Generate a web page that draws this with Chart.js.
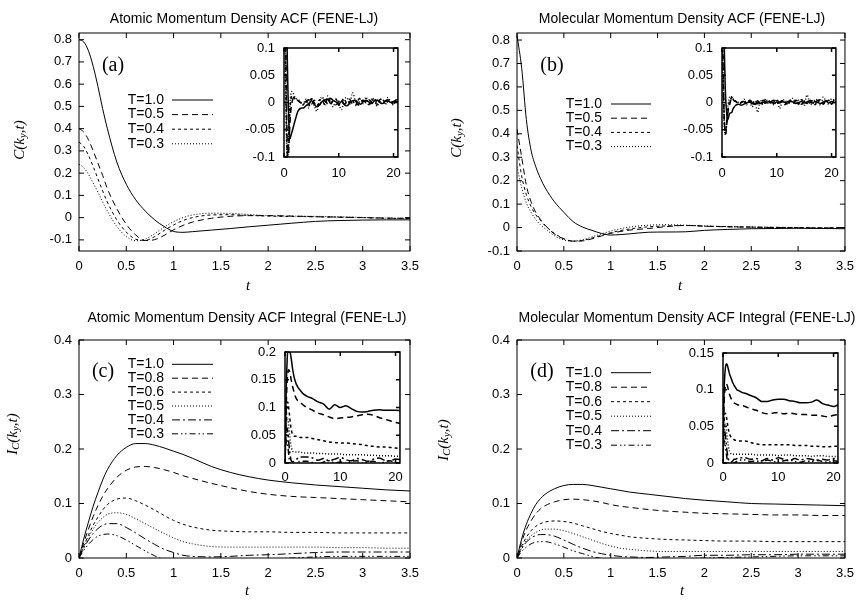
<!DOCTYPE html>
<html>
<head>
<meta charset="utf-8">
<title>Momentum Density ACF (FENE-LJ)</title>
<script src="https://cdn.jsdelivr.net/npm/chart.js@4.4.1/dist/chart.umd.min.js"></script>
<style>
  body { margin: 0; background: #fff; }
  #fig { position: relative; width: 862px; height: 605px; overflow: hidden; font-family: "Liberation Sans", Arial, sans-serif; }
  #fig canvas { position: absolute; }
  .lbl { position: absolute; transform: translate(-50%, -50%); white-space: nowrap; line-height: 1; color: #000; }
  .title { font-size: 14px; }
  .serif { font-family: "Liberation Serif", "Times New Roman", serif; }
  .axis { font-size: 15px; font-style: italic; }
  .rot { transform: translate(-50%, -50%) rotate(-90deg); }
  .tag { font-size: 20px; }
  sub { font-size: 70%; vertical-align: -0.25em; line-height: 0; }
</style>
</head>
<body>
<div id="fig">
  <canvas id="cA" width="431" height="302" style="left:0;top:0"></canvas>
  <canvas id="cB" width="431" height="302" style="left:431px;top:0"></canvas>
  <canvas id="cC" width="431" height="302" style="left:0;top:302px"></canvas>
  <canvas id="cD" width="431" height="302" style="left:431px;top:302px"></canvas>
  <canvas id="iA" width="180" height="165" style="left:230px;top:28px"></canvas>
  <canvas id="iB" width="180" height="165" style="left:668px;top:28px"></canvas>
  <canvas id="iC" width="180" height="165" style="left:230px;top:332px"></canvas>
  <canvas id="iD" width="180" height="165" style="left:668px;top:333px"></canvas>

  <div class="lbl title" style="left:244px;top:18px">Atomic Momentum Density ACF (FENE-LJ)</div>
  <div class="lbl title" style="left:682px;top:18px">Molecular Momentum Density ACF (FENE-LJ)</div>
  <div class="lbl title" style="left:247px;top:317px">Atomic Momentum Density ACF Integral (FENE-LJ)</div>
  <div class="lbl title" style="left:687px;top:317px">Molecular Momentum Density ACF Integral (FENE-LJ)</div>

  <div class="lbl serif axis rot" style="left:19px;top:140px"><i>C</i>(<i>k<sub>y</sub></i>,<i>t</i>)</div>
  <div class="lbl serif axis rot" style="left:456px;top:138px"><i>C</i>(<i>k<sub>y</sub></i>,<i>t</i>)</div>
  <div class="lbl serif axis rot" style="left:12px;top:434px"><i>I<sub>C</sub></i>(<i>k<sub>y</sub></i>,<i>t</i>)</div>
  <div class="lbl serif axis rot" style="left:443px;top:440px"><i>I<sub>C</sub></i>(<i>k<sub>y</sub></i>,<i>t</i>)</div>

  <div class="lbl serif axis" style="left:248px;top:285px">t</div>
  <div class="lbl serif axis" style="left:680px;top:285px">t</div>
  <div class="lbl serif axis" style="left:247px;top:590px">t</div>
  <div class="lbl serif axis" style="left:682px;top:590px">t</div>

  <div class="lbl serif tag" style="left:113px;top:64px">(a)</div>
  <div class="lbl serif tag" style="left:552px;top:64px">(b)</div>
  <div class="lbl serif tag" style="left:103px;top:370px">(c)</div>
  <div class="lbl serif tag" style="left:542px;top:370px">(d)</div>
</div>

<script>
// ---- time grids ----
const tMain = [0, 0.05, 0.1, 0.15, 0.2, 0.25, 0.3, 0.4, 0.5, 0.6, 0.7, 0.8, 0.9, 1.0, 1.1, 1.2, 1.4, 1.6, 1.8, 2.0, 2.25, 2.5, 2.75, 3.0, 3.25, 3.5];
const tTailFine = [4, 4.5, 5, 5.5, 6, 6.5, 7, 7.5, 8, 8.5, 9, 9.5, 10, 10.5, 11, 11.5, 12, 12.5, 13, 13.5, 14, 14.5, 15, 15.5, 16, 16.5, 17, 17.5, 18, 18.5, 19, 19.5, 20, 20.5, 21];
const tTailCoarse = [4, 5, 6, 7, 8, 9, 10, 11, 12, 13, 14, 15, 16, 17, 18, 19, 20, 21];

// ---- tick values ----
const xTicksMain = [0, 0.5, 1, 1.5, 2, 2.5, 3, 3.5];
const yTicksAcf = [-0.1, 0, 0.1, 0.2, 0.3, 0.4, 0.5, 0.6, 0.7, 0.8];
const yTicksInt = [0, 0.1, 0.2, 0.3, 0.4];
const xTicksInset = [0, 10, 20];
const yTicksInsetAcf = [-0.1, -0.05, 0, 0.05, 0.1];
const yTicksInsetAtomInt = [0, 0.05, 0.1, 0.15, 0.2];
const yTicksInsetMolInt = [0, 0.05, 0.1, 0.15];

const labelsAcf = ['T=1.0', 'T=0.5', 'T=0.4', 'T=0.3'];
const labelsInt = ['T=1.0', 'T=0.8', 'T=0.6', 'T=0.5', 'T=0.4', 'T=0.3'];

// ---- (a) atomic ACF ----
const atomAcf10 = [0.80, 0.79, 0.75, 0.68, 0.59, 0.49, 0.40, 0.25, 0.15, 0.08, 0.03, -0.01, -0.04, -0.062, -0.066, -0.063, -0.056, -0.049, -0.041, -0.034, -0.025, -0.017, -0.013, -0.011, -0.01, -0.01];
const atomAcf05 = [0.40, 0.385, 0.35, 0.30, 0.245, 0.19, 0.13, 0.04, -0.03, -0.078, -0.103, -0.099, -0.08, -0.055, -0.035, -0.02, -0.003, 0.006, 0.009, 0.009, 0.007, 0.004, 0.002, 0.0, -0.002, -0.003];
const atomAcf04 = [0.34, 0.32, 0.28, 0.23, 0.175, 0.12, 0.07, -0.01, -0.065, -0.097, -0.102, -0.085, -0.058, -0.033, -0.013, 0.0, 0.012, 0.013, 0.01, 0.007, 0.005, 0.004, 0.002, 0.0, -0.003, -0.004];
const atomAcf03 = [0.24, 0.225, 0.195, 0.155, 0.115, 0.07, 0.03, -0.04, -0.085, -0.104, -0.097, -0.072, -0.043, -0.018, 0.0, 0.012, 0.02, 0.019, 0.014, 0.009, 0.007, 0.006, 0.004, 0.001, -0.002, -0.004];
// long-time tails (inset a)
const atomAcf10Tail = [-0.006, -0.002, 0.003, -0.003, -0.008, -0.004, 0.002, 0.005, 0.006, -0.002, 0.003, 0.001, -0.003, 0.002, -0.004, -0.006, -0.001, 0.003, 0.004, 0.0, -0.003, 0.002, 0.004, 0.001, -0.002, 0.003, 0.004, 0.0, -0.002, 0.002, 0.003, 0.0, 0.001, 0.002, 0.001];
const atomAcf05Tail = [0.002, 0.005, -0.003, 0.004, 0.001, -0.005, 0.006, 0.002, -0.002, 0.008, 0.003, -0.004, 0.002, 0.005, -0.003, 0.001, 0.006, -0.002, 0.003, -0.004, 0.002, 0.004, -0.001, 0.005, 0.0, -0.003, 0.004, 0.002, -0.002, 0.003, 0.005, -0.001, 0.002, 0.004, 0.0];
const atomAcf04Tail = [0.004, -0.006, 0.007, 0.0, -0.008, 0.005, 0.003, -0.004, 0.009, -0.002, 0.004, 0.006, -0.005, 0.002, 0.007, -0.003, 0.001, 0.005, -0.006, 0.004, 0.008, -0.002, 0.003, -0.004, 0.006, 0.001, -0.003, 0.005, 0.007, -0.002, 0.002, 0.004, -0.003, 0.005, 0.002];
const atomAcf03Tail = [0.006, -0.01, 0.008, -0.005, -0.016, 0.004, 0.01, -0.006, 0.012, 0.002, -0.008, 0.006, -0.004, -0.013, 0.005, 0.009, -0.003, 0.018, 0.004, -0.006, 0.007, -0.002, 0.01, -0.005, 0.003, 0.008, -0.007, 0.004, 0.006, -0.004, 0.009, 0.001, -0.005, 0.006, 0.003];

// ---- (b) molecular ACF ----
const molAcf10 = [0.82, 0.68, 0.46, 0.33, 0.26, 0.21, 0.17, 0.11, 0.065, 0.025, 0.002, -0.012, -0.025, -0.032, -0.03, -0.027, -0.02, -0.019, -0.018, -0.012, -0.008, -0.005, -0.004, -0.003, -0.004, -0.005];
const molAcf05 = [0.42, 0.30, 0.18, 0.11, 0.065, 0.035, 0.01, -0.028, -0.048, -0.058, -0.057, -0.048, -0.036, -0.025, -0.017, -0.011, -0.004, 0.004, 0.009, 0.006, 0.003, 0.002, 0.0, -0.001, -0.002, 0.0];
const molAcf04 = [0.35, 0.22, 0.14, 0.09, 0.055, 0.03, 0.008, -0.025, -0.048, -0.058, -0.055, -0.045, -0.033, -0.022, -0.013, -0.006, 0.003, 0.007, 0.009, 0.006, 0.004, 0.002, 0.001, 0.0, -0.001, 0.0];
const molAcf03 = [0.26, 0.17, 0.105, 0.065, 0.035, 0.012, -0.005, -0.035, -0.053, -0.058, -0.052, -0.04, -0.027, -0.015, -0.005, 0.002, 0.01, 0.012, 0.01, 0.007, 0.004, 0.002, 0.001, 0.0, -0.002, -0.002];
const molAcf10Tail = [-0.003, -0.001, 0.001, -0.002, -0.003, 0.0, -0.002, 0.001, -0.001, 0.002, 0.0, -0.002, 0.001, -0.001, 0.002, 0.0, -0.001, 0.002, 0.001, -0.002, 0.0, 0.002, -0.001, 0.001, 0.003, -0.001, 0.002, 0.0, -0.002, 0.001, 0.003, -0.001, 0.002, 0.0, 0.001];
const molAcf05Tail = [0.002, -0.003, 0.004, 0.0, -0.004, 0.003, -0.002, 0.004, 0.001, -0.003, 0.002, 0.004, -0.002, 0.001, 0.003, -0.003, 0.002, 0.0, -0.002, 0.004, 0.001, -0.003, 0.002, 0.005, -0.001, 0.003, -0.002, 0.004, 0.0, -0.003, 0.003, 0.001, -0.002, 0.004, 0.001];
const molAcf04Tail = [0.004, -0.002, 0.001, 0.005, -0.004, -0.002, 0.003, -0.005, 0.002, 0.004, -0.003, 0.001, 0.005, -0.002, 0.003, -0.004, 0.002, 0.004, -0.001, 0.003, -0.003, 0.005, 0.001, -0.002, 0.004, 0.002, -0.004, 0.003, 0.005, -0.002, 0.001, 0.004, -0.003, 0.002, 0.0];
const molAcf03Tail = [0.006, -0.004, 0.003, -0.008, 0.002, -0.018, 0.004, -0.003, 0.007, -0.002, 0.003, -0.005, 0.006, -0.011, 0.002, 0.005, -0.004, 0.003, 0.008, -0.003, 0.004, 0.002, -0.006, 0.014, 0.001, -0.004, 0.006, 0.003, -0.005, 0.01, 0.002, -0.003, 0.007, 0.004, 0.002];

// ---- (c) atomic ACF integral ----
const atomInt10 = [0, 0.035, 0.066, 0.095, 0.12, 0.143, 0.162, 0.188, 0.203, 0.21, 0.21, 0.207, 0.202, 0.196, 0.19, 0.183, 0.168, 0.157, 0.149, 0.143, 0.138, 0.134, 0.131, 0.128, 0.125, 0.123];
const atomInt08 = [0, 0.028, 0.053, 0.076, 0.096, 0.113, 0.127, 0.148, 0.161, 0.167, 0.168, 0.166, 0.162, 0.157, 0.151, 0.146, 0.137, 0.129, 0.122, 0.117, 0.113, 0.111, 0.109, 0.107, 0.105, 0.103];
const atomInt06 = [0, 0.022, 0.042, 0.06, 0.075, 0.088, 0.098, 0.108, 0.11, 0.105, 0.097, 0.088, 0.078, 0.069, 0.062, 0.057, 0.051, 0.049, 0.048, 0.048, 0.047, 0.047, 0.046, 0.046, 0.046, 0.046];
const atomInt05 = [0, 0.02, 0.038, 0.053, 0.065, 0.074, 0.08, 0.083, 0.08, 0.072, 0.063, 0.054, 0.045, 0.037, 0.03, 0.026, 0.021, 0.02, 0.02, 0.02, 0.02, 0.02, 0.019, 0.019, 0.018, 0.018];
const atomInt04 = [0, 0.018, 0.033, 0.045, 0.054, 0.06, 0.063, 0.063, 0.056, 0.046, 0.035, 0.025, 0.016, 0.01, 0.005, 0.003, 0.002, 0.003, 0.005, 0.006, 0.008, 0.01, 0.011, 0.011, 0.011, 0.011];
const atomInt03 = [0, 0.014, 0.025, 0.034, 0.04, 0.043, 0.044, 0.041, 0.033, 0.023, 0.013, 0.004, -0.003, -0.008, -0.01, -0.011, -0.01, -0.007, -0.004, -0.002, 0.0, 0.002, 0.003, 0.003, 0.003, 0.003];
const atomInt10Tail = [0.12, 0.116, 0.11, 0.106, 0.097, 0.105, 0.1, 0.103, 0.098, 0.093, 0.092, 0.093, 0.095, 0.096, 0.095, 0.095, 0.095, 0.094];
const atomInt08Tail = [0.1, 0.095, 0.09, 0.087, 0.083, 0.08, 0.081, 0.082, 0.083, 0.085, 0.087, 0.088, 0.086, 0.082, 0.079, 0.076, 0.073, 0.071];
const atomInt06Tail = [0.046, 0.044, 0.042, 0.04, 0.038, 0.037, 0.036, 0.036, 0.035, 0.034, 0.033, 0.031, 0.03, 0.029, 0.029, 0.028, 0.027, 0.026];
const atomInt05Tail = [0.018, 0.018, 0.017, 0.017, 0.016, 0.016, 0.016, 0.015, 0.015, 0.015, 0.015, 0.014, 0.014, 0.013, 0.013, 0.013, 0.012, 0.012];
const atomInt04Tail = [0.011, 0.009, 0.005, 0.008, 0.004, 0.007, 0.01, 0.006, 0.004, 0.008, 0.006, 0.003, 0.007, 0.009, 0.005, 0.004, 0.007, 0.006];
const atomInt03Tail = [0.003, 0.001, -0.002, 0.002, 0.004, 0.0, 0.002, -0.001, 0.003, 0.004, 0.0, 0.002, 0.003, -0.001, 0.002, 0.004, 0.001, 0.002];

// ---- (d) molecular ACF integral ----
const molInt10 = [0, 0.035, 0.062, 0.082, 0.098, 0.109, 0.117, 0.127, 0.133, 0.135, 0.135, 0.133, 0.13, 0.127, 0.124, 0.121, 0.117, 0.113, 0.109, 0.106, 0.103, 0.1, 0.099, 0.098, 0.097, 0.096];
const molInt08 = [0, 0.03, 0.052, 0.068, 0.081, 0.09, 0.096, 0.103, 0.107, 0.108, 0.107, 0.105, 0.102, 0.098, 0.095, 0.093, 0.089, 0.086, 0.084, 0.082, 0.081, 0.08, 0.079, 0.079, 0.078, 0.078];
const molInt06 = [0, 0.022, 0.038, 0.05, 0.058, 0.063, 0.066, 0.068, 0.067, 0.064, 0.059, 0.054, 0.049, 0.045, 0.042, 0.039, 0.036, 0.034, 0.033, 0.032, 0.031, 0.031, 0.03, 0.03, 0.03, 0.03];
const molInt05 = [0, 0.019, 0.032, 0.041, 0.047, 0.051, 0.053, 0.053, 0.05, 0.045, 0.039, 0.033, 0.027, 0.022, 0.018, 0.016, 0.013, 0.012, 0.012, 0.012, 0.012, 0.012, 0.012, 0.012, 0.012, 0.012];
const molInt04 = [0, 0.017, 0.029, 0.037, 0.041, 0.043, 0.043, 0.04, 0.033, 0.025, 0.018, 0.012, 0.008, 0.005, 0.003, 0.002, 0.001, 0.002, 0.003, 0.005, 0.005, 0.006, 0.006, 0.007, 0.007, 0.007];
const molInt03 = [0, 0.012, 0.02, 0.026, 0.029, 0.03, 0.03, 0.026, 0.02, 0.013, 0.008, 0.003, -0.001, -0.004, -0.005, -0.005, -0.004, -0.003, -0.001, 0.0, 0.001, 0.002, 0.003, 0.004, 0.004, 0.004];
const molInt10Tail = [0.095, 0.092, 0.089, 0.084, 0.084, 0.086, 0.087, 0.087, 0.085, 0.084, 0.082, 0.082, 0.083, 0.086, 0.081, 0.079, 0.077, 0.08];
const molInt08Tail = [0.077, 0.074, 0.072, 0.069, 0.067, 0.068, 0.069, 0.067, 0.068, 0.067, 0.066, 0.066, 0.065, 0.065, 0.064, 0.063, 0.065, 0.066];
const molInt06Tail = [0.03, 0.028, 0.026, 0.025, 0.025, 0.025, 0.025, 0.025, 0.025, 0.024, 0.024, 0.024, 0.023, 0.023, 0.022, 0.022, 0.023, 0.023];
const molInt05Tail = [0.012, 0.012, 0.011, 0.011, 0.011, 0.011, 0.01, 0.011, 0.011, 0.01, 0.01, 0.01, 0.009, 0.01, 0.01, 0.009, 0.009, 0.009];
const molInt04Tail = [0.007, 0.005, 0.006, 0.003, 0.006, 0.004, 0.007, 0.005, 0.003, 0.006, 0.004, 0.006, 0.005, 0.003, 0.005, 0.004, 0.006, 0.005];
const molInt03Tail = [0.004, 0.002, 0.003, 0.001, 0.004, 0.002, 0.001, 0.003, 0.004, 0.002, 0.001, 0.003, 0.002, 0.004, 0.002, 0.001, 0.003, 0.002];

// gnuplot-like line types
const dashAcf = [[], [6, 4], [3, 3], [1, 2]];
const dashInt = [[], [6, 4], [3, 3], [1, 2], [8, 3, 2, 3], [6, 3, 1.5, 2.5, 1.5, 3]];
const FONT = '"Liberation Sans", Arial, sans-serif';

function pts(ts, vs) {
    return vs.map((v, i) => ({ x: ts[i], y: v }));
}

// main curve followed by its long-time tail (insets)
function joined(head, tailT, tail) {
    return pts(tMain.concat(tailT), head.concat(tail));
}

// border box with inward ticks on all four sides
const frameTicks = {
    id: 'frameTicks',
    afterDatasetsDraw(chart, args, opts) {
        const { ctx, chartArea: a, scales } = chart;
        const len = opts.len || 5;
        ctx.save();
        ctx.strokeStyle = '#000';
        ctx.lineWidth = opts.width || 1;
        ctx.setLineDash([]);
        ctx.beginPath();
        scales.x.ticks.forEach(t => {
            const px = scales.x.getPixelForValue(t.value);
            ctx.moveTo(px, a.bottom); ctx.lineTo(px, a.bottom - len);
            ctx.moveTo(px, a.top); ctx.lineTo(px, a.top + len);
        });
        scales.y.ticks.forEach(t => {
            const py = scales.y.getPixelForValue(t.value);
            ctx.moveTo(a.left, py); ctx.lineTo(a.left + len, py);
            ctx.moveTo(a.right, py); ctx.lineTo(a.right - len, py);
        });
        ctx.stroke();
        ctx.strokeRect(a.left, a.top, a.right - a.left, a.bottom - a.top);
        ctx.restore();
    }
};

// key inside the plot: label right-aligned, sample line to its right
const keyBox = {
    id: 'keyBox',
    afterDatasetsDraw(chart, args, opts) {
        if (!opts || opts.textRight === undefined) return;
        const ctx = chart.ctx;
        ctx.save();
        ctx.font = '14px ' + FONT;
        ctx.textAlign = 'right';
        ctx.textBaseline = 'middle';
        ctx.fillStyle = '#000';
        chart.data.datasets.forEach((ds, i) => {
            const y = opts.top + i * opts.step;
            ctx.fillText(ds.label, opts.textRight, y);
            ctx.setLineDash(ds.borderDash || []);
            ctx.lineWidth = ds.borderWidth;
            ctx.strokeStyle = ds.borderColor;
            ctx.beginPath();
            ctx.moveTo(opts.x1, y);
            ctx.lineTo(opts.x2, y);
            ctx.stroke();
        });
        ctx.restore();
    }
};

function makeChart(id, c) {
    const fmt = v => String(Math.round(v * 1000) / 1000);
    const tickFont = { family: FONT, size: 13 };
    return new Chart(document.getElementById(id), {
        type: 'line',
        data: {
            datasets: c.series.map((s, i) => ({
                label: c.labels[i],
                data: s,
                borderColor: '#000',
                borderWidth: c.lineWidth,
                borderDash: c.dashes[i],
                pointRadius: 0,
                fill: false,
                cubicInterpolationMode: 'monotone'
            }))
        },
        options: {
            responsive: false,
            animation: false,
            events: [],
            layout: { padding: c.pad },
            plugins: {
                legend: { display: false },
                tooltip: { enabled: false },
                frameTicks: { len: c.tickLen, width: c.frameWidth },
                keyBox: c.key || {}
            },
            scales: {
                x: {
                    type: 'linear',
                    min: c.xRange[0],
                    max: c.xRange[1],
                    grid: { display: false, drawTicks: false },
                    border: { display: false },
                    ticks: { padding: c.xPad, font: tickFont, color: '#000', maxRotation: 0, autoSkip: false, callback: fmt },
                    afterBuildTicks: s => { s.ticks = c.xTicks.map(v => ({ value: v })); },
                    afterFit: s => { s.height = c.xHeight; }
                },
                y: {
                    type: 'linear',
                    min: c.yRange[0],
                    max: c.yRange[1],
                    grid: { display: false, drawTicks: false },
                    border: { display: false },
                    ticks: { padding: c.yPad, font: tickFont, color: '#000', autoSkip: false, callback: fmt },
                    afterBuildTicks: s => { s.ticks = c.yTicks.map(v => ({ value: v })); },
                    afterFit: s => { s.width = c.yWidth; }
                }
            }
        },
        plugins: [frameTicks, keyBox]
    });
}

const mainBase = { xRange: [0, 3.5], xTicks: xTicksMain, lineWidth: 1, tickLen: 5, frameWidth: 1, xPad: 8, yPad: 7 };
const insetBase = { xRange: [0, 20.8], xTicks: xTicksInset, lineWidth: 1.5, tickLen: 4, frameWidth: 1.5, yPad: 9 };

// (a)
makeChart('cA', Object.assign({}, mainBase, {
    series: [atomAcf10, atomAcf05, atomAcf04, atomAcf03].map(v => pts(tMain, v)),
    labels: labelsAcf, dashes: dashAcf,
    yRange: [-0.15, 0.83], yTicks: yTicksAcf,
    pad: { top: 33, right: 21, bottom: 0, left: 0 }, yWidth: 79, xHeight: 51,
    key: { textRight: 164, x1: 172, x2: 213, top: 100, step: 14.6 }
}));
// (b)
makeChart('cB', Object.assign({}, mainBase, {
    series: [molAcf10, molAcf05, molAcf04, molAcf03].map(v => pts(tMain, v)),
    labels: labelsAcf, dashes: dashAcf,
    yRange: [-0.1, 0.83], yTicks: yTicksAcf,
    pad: { top: 33, right: 13, bottom: 0, left: 0 }, yWidth: 86, xHeight: 51,
    key: { textRight: 171, x1: 180, x2: 220, top: 104, step: 14.2 }
}));
// (c)
makeChart('cC', Object.assign({}, mainBase, {
    series: [atomInt10, atomInt08, atomInt06, atomInt05, atomInt04, atomInt03].map(v => pts(tMain, v)),
    labels: labelsInt, dashes: dashInt,
    yRange: [0, 0.4], yTicks: yTicksInt,
    pad: { top: 38, right: 21, bottom: 0, left: 0 }, yWidth: 79, xHeight: 46,
    key: { textRight: 164, x1: 172, x2: 213, top: 62.3, step: 13.9 }
}));
// (d)
makeChart('cD', Object.assign({}, mainBase, {
    series: [molInt10, molInt08, molInt06, molInt05, molInt04, molInt03].map(v => pts(tMain, v)),
    labels: labelsInt, dashes: dashInt,
    yRange: [0, 0.4], yTicks: yTicksInt,
    pad: { top: 38, right: 13, bottom: 0, left: 0 }, yWidth: 86, xHeight: 46,
    key: { textRight: 171, x1: 180, x2: 220, top: 70.7, step: 14.5 }
}));

// insets: full time range up to t = 20
makeChart('iA', Object.assign({}, insetBase, {
    series: [
        joined(atomAcf10, tTailFine, atomAcf10Tail),
        joined(atomAcf05, tTailFine, atomAcf05Tail),
        joined(atomAcf04, tTailFine, atomAcf04Tail),
        joined(atomAcf03, tTailFine, atomAcf03Tail)
    ],
    labels: labelsAcf, dashes: dashAcf,
    yRange: [-0.1, 0.1], yTicks: yTicksInsetAcf,
    pad: { top: 20, right: 6, bottom: 0, left: 0 }, yWidth: 54, xHeight: 36, xPad: 9
}));
makeChart('iB', Object.assign({}, insetBase, {
    series: [
        joined(molAcf10, tTailFine, molAcf10Tail),
        joined(molAcf05, tTailFine, molAcf05Tail),
        joined(molAcf04, tTailFine, molAcf04Tail),
        joined(molAcf03, tTailFine, molAcf03Tail)
    ],
    labels: labelsAcf, dashes: dashAcf,
    yRange: [-0.1, 0.1], yTicks: yTicksInsetAcf,
    pad: { top: 20, right: 6, bottom: 0, left: 0 }, yWidth: 54, xHeight: 36, xPad: 9
}));
makeChart('iC', Object.assign({}, insetBase, {
    series: [
        joined(atomInt10, tTailCoarse, atomInt10Tail),
        joined(atomInt08, tTailCoarse, atomInt08Tail),
        joined(atomInt06, tTailCoarse, atomInt06Tail),
        joined(atomInt05, tTailCoarse, atomInt05Tail),
        joined(atomInt04, tTailCoarse, atomInt04Tail),
        joined(atomInt03, tTailCoarse, atomInt03Tail)
    ],
    labels: labelsInt, dashes: dashInt,
    yRange: [0, 0.2], yTicks: yTicksInsetAtomInt,
    pad: { top: 20, right: 6, bottom: 0, left: 0 }, yWidth: 55, xHeight: 34, xPad: 7
}));
makeChart('iD', Object.assign({}, insetBase, {
    series: [
        joined(molInt10, tTailCoarse, molInt10Tail),
        joined(molInt08, tTailCoarse, molInt08Tail),
        joined(molInt06, tTailCoarse, molInt06Tail),
        joined(molInt05, tTailCoarse, molInt05Tail),
        joined(molInt04, tTailCoarse, molInt04Tail),
        joined(molInt03, tTailCoarse, molInt03Tail)
    ],
    labels: labelsInt, dashes: dashInt,
    yRange: [0, 0.15], yTicks: yTicksInsetMolInt,
    pad: { top: 20, right: 6, bottom: 0, left: 0 }, yWidth: 55, xHeight: 35, xPad: 7
}));
</script>
</body>
</html>
